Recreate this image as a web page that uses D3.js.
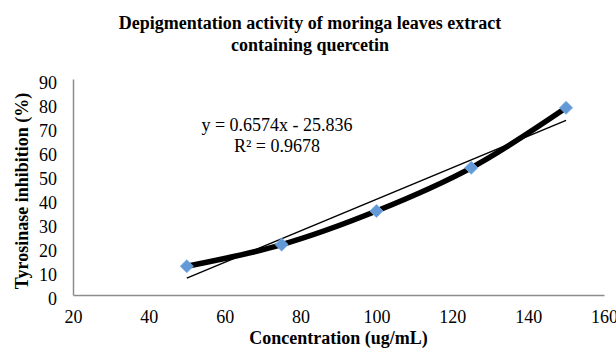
<!DOCTYPE html>
<html>
<head>
<meta charset="utf-8">
<script src="https://cdn.jsdelivr.net/npm/d3@7"></script>
<style>
  html, body { margin: 0; padding: 0; background: #fff; }
  svg { display: block; }
  svg text { font-family: "Liberation Serif", "Times New Roman", serif; }
</style>
</head>
<body>
<svg id="chart" width="616" height="356"></svg>
<script>
// Concentration (ug/mL) and tyrosinase inhibition (%)
const concentrations = [50, 75, 100, 125, 150];
const inhibition = [12, 21, 35, 53, 78];

// Linear trendline reported on the chart
const trendSlope = 0.6574;
const trendIntercept = -25.836;
const trendR2 = 0.9678;

const xTicks = [20, 40, 60, 80, 100, 120, 140, 160];
const yTicks = [0, 10, 20, 30, 40, 50, 60, 70, 80, 90];

const titleLines = ["Depigmentation activity of moringa leaves extract", "containing quercetin"];
const xTitle = "Concentration (ug/mL)";
const yTitle = "Tyrosinase inhibition (%)";

const serif = '"Liberation Serif", "Times New Roman", serif';
const svg = d3.select("#chart");
const plot = { left: 73, right: 604, top: 79, bottom: 295 };

const x = d3.scaleLinear().domain([20, 160]).range([plot.left, plot.right]);
const y = d3.scaleLinear().domain([0, 90]).range([plot.bottom, plot.top]);

// Title
svg.append("text")
  .attr("x", 310).attr("y", 29)
  .attr("text-anchor", "middle")
  .style("font-family", serif)
  .attr("font-size", 18).attr("font-weight", "bold")
  .selectAll("tspan").data(titleLines).join("tspan")
  .attr("x", 310).attr("dy", (d, i) => i === 0 ? 0 : 22)
  .text(d => d);

// Axes (lines only, no tick marks)
const xAxis = svg.append("g")
  .attr("transform", `translate(0,${plot.bottom})`)
  .call(d3.axisBottom(x).tickValues(xTicks).tickSize(0).tickPadding(15));
const yAxis = svg.append("g")
  .attr("transform", `translate(${plot.left},0)`)
  .call(d3.axisLeft(y).tickValues(yTicks).tickSize(0).tickPadding(16));

[xAxis, yAxis].forEach(g => {
  g.attr("font-family", null).attr("font-size", null);
  g.select(".domain").attr("stroke", "#8c8c8c").attr("stroke-width", 1.5);
  g.selectAll("text")
    .style("font-family", serif)
    .style("font-size", "18px").attr("fill", "#000");
});
yAxis.selectAll("text").attr("dy", "0.55em");
xAxis.selectAll("text").attr("dy", "0.71em");

// Axis titles
svg.append("text")
  .attr("x", (plot.left + plot.right) / 2).attr("y", 344)
  .attr("text-anchor", "middle")
  .style("font-family", serif)
  .attr("font-size", 18).attr("font-weight", "bold")
  .text(xTitle);
svg.append("text")
  .attr("transform", `translate(28,${(plot.top + plot.bottom) / 2 + 4}) rotate(-90)`)
  .attr("text-anchor", "middle")
  .style("font-family", serif)
  .attr("font-size", 18).attr("font-weight", "bold")
  .text(yTitle);

// Linear trendline over the data range
const xMin = d3.min(concentrations), xMax = d3.max(concentrations);
svg.append("line")
  .attr("x1", x(xMin)).attr("y1", y(trendSlope * xMin + trendIntercept))
  .attr("x2", x(xMax)).attr("y2", y(trendSlope * xMax + trendIntercept))
  .attr("stroke", "#000").attr("stroke-width", 1.4);

// Smoothed data line
const points = concentrations.map((c, i) => [c, inhibition[i]]);
svg.append("path")
  .datum(points)
  .attr("fill", "none")
  .attr("stroke", "#000")
  .attr("stroke-width", 5.5)
  .attr("stroke-linejoin", "round")
  .attr("d", d3.line().x(d => x(d[0])).y(d => y(d[1])).curve(d3.curveCatmullRom.alpha(0.5)));

// Diamond markers
svg.append("g").selectAll("path")
  .data(points).join("path")
  .attr("transform", d => `translate(${x(d[0])},${y(d[1])})`)
  .attr("d", d3.symbol().type(d3.symbolDiamond2).size(110))
  .attr("fill", "#6399d6")
  .attr("stroke", "#7aaee6").attr("stroke-width", 0.8);

// Trendline equation
const fmtEq = `y = ${trendSlope}x - ${Math.abs(trendIntercept)}`;
svg.append("text")
  .attr("x", 277).attr("y", 131)
  .attr("text-anchor", "middle").attr("font-size", 18)
  .style("font-family", serif)
  .text(fmtEq);
svg.append("text")
  .attr("x", 277).attr("y", 152)
  .attr("text-anchor", "middle").attr("font-size", 18)
  .style("font-family", serif)
  .text(`R² = ${trendR2}`);
</script>
</body>
</html>
